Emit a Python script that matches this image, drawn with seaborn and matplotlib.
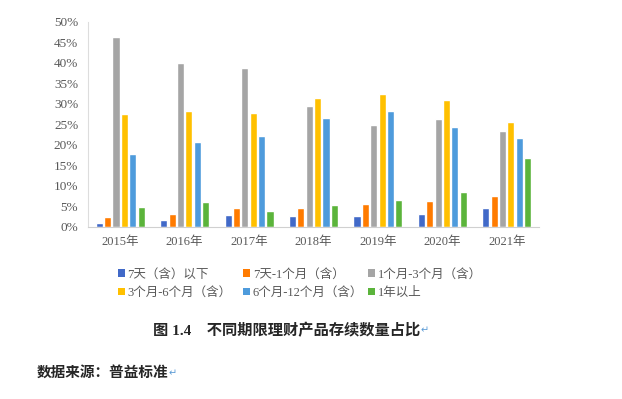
import pandas as pd
import matplotlib.pyplot as plt
import seaborn as sns
from matplotlib.patches import Patch

years = ['2015年', '2016年', '2017年', '2018年', '2019年', '2020年', '2021年']
categories = ['7天（含）以下', '7天-1个月（含）', '1个月-3个月（含）',
              '3个月-6个月（含）', '6个月-12个月（含）', '1年以上']

# share of products (%) per year, one list per duration bucket
s_7d = [1.0, 1.7, 2.9, 2.7, 2.7, 3.2, 4.6]
s_7d_1m = [2.4, 3.2, 4.6, 4.6, 5.4, 6.3, 7.5]
s_1m_3m = [46.2, 39.9, 38.7, 29.4, 24.8, 26.3, 23.4]
s_3m_6m = [27.5, 28.2, 27.7, 31.4, 32.3, 30.9, 25.6]
s_6m_12m = [17.8, 20.7, 22.0, 26.5, 28.2, 24.3, 21.7]
s_1y = [4.9, 6.1, 3.7, 5.2, 6.6, 8.5, 16.8]

colors = ['#4169C8', '#FF7B00', '#A5A5A5', '#FFC000', '#4E9BDC', '#5BB43B']

rows = []
for cat, vals in zip(categories, [s_7d, s_7d_1m, s_1m_3m, s_3m_6m, s_6m_12m, s_1y]):
    for y, v in zip(years, vals):
        rows.append({'Year': y, 'Bucket': cat, 'Share': v})
df = pd.DataFrame(rows)

sns.set_style('white')
plt.rcParams['font.family'] = ['Liberation Serif', 'Noto Sans CJK SC', 'DejaVu Sans']

fig = plt.figure(figsize=(6.22, 3.99), dpi=100)
ax = fig.add_axes([0.1415, 0.432, 0.725, 0.514])

sns.barplot(data=df, x='Year', y='Share', hue='Bucket', hue_order=categories,
            palette=colors, width=0.78, gap=0.15, saturation=1, ax=ax, legend=False)

ax.set_ylim(0, 50)
ax.set_yticks(range(0, 51, 5))
ax.set_yticklabels([f'{t}%' for t in range(0, 51, 5)], fontsize=9.5, color='#595959')
ax.tick_params(axis='x', labelsize=9, colors='#595959', length=0, pad=6.5)
ax.tick_params(axis='y', length=0, pad=7)
ax.set_xlabel('')
ax.set_ylabel('')
for side in ['top', 'right']:
    ax.spines[side].set_visible(False)
ax.spines['left'].set_color('#DDDDDD')
ax.spines['bottom'].set_color('#D0D0D0')
ax.spines['left'].set_linewidth(0.8)
ax.spines['bottom'].set_linewidth(0.8)

# legend: 3 evenly spaced columns of 2 entries (row-major reading order)
col_x = [0.172, 0.373, 0.574]
for c in range(3):
    idx = [c, c + 3]
    handles = [Patch(facecolor=colors[i], edgecolor='none') for i in idx]
    fig.legend(handles, [categories[i] for i in idx], loc='upper left',
               bbox_to_anchor=(col_x[c], 0.355), frameon=False, fontsize=9,
               handlelength=0.55, handleheight=0.55, handletextpad=0.2,
               labelspacing=0.5, labelcolor='#595959')

cap = fig.text(0.246, 0.172, '图 1.4    不同期限理财产品存续数量占比', fontsize=11,
               fontweight='bold', ha='left', va='center')
src = fig.text(0.059, 0.065, '数据来源：普益标准', fontsize=10.5, fontweight='bold',
               ha='left', va='center')

# paragraph marks right after each text line
fig.canvas.draw()
r = fig.canvas.get_renderer()
for t in [cap, src]:
    bb = t.get_window_extent(r)
    x = bb.x1 / fig.bbox.width
    fig.text(x, t.get_position()[1], '↵', fontsize=7, color='#5B9BD5',
             ha='left', va='center', family='DejaVu Sans')

fig.savefig('out.png', dpi=100)
